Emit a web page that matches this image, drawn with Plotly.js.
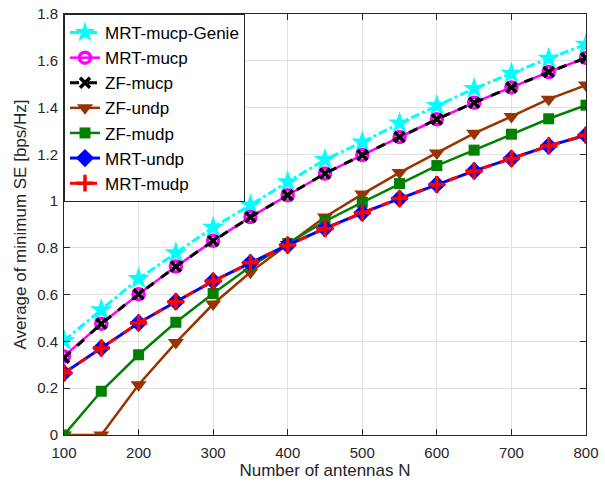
<!DOCTYPE html>
<html>
<head>
<meta charset="utf-8">
<script src="https://cdn.plot.ly/plotly-3.0.1.min.js"></script>
<style>html,body{margin:0;padding:0;background:#fff;}#chart{width:605px;height:487px;}</style>
</head>
<body>
<div id="chart"></div>
<script>
const antennas = [100,150,200,250,300,350,400,450,500,550,600,650,700,750,800];
const mrtMucpGenie = [0.403,0.535,0.668,0.778,0.888,0.983,1.082,1.177,1.252,1.333,1.408,1.481,1.546,1.610,1.670];
const mrtMucp      = [0.336,0.476,0.602,0.720,0.830,0.932,1.025,1.118,1.197,1.274,1.350,1.421,1.486,1.552,1.612];
const zfMucp       = [0.330,0.476,0.602,0.720,0.830,0.932,1.025,1.118,1.197,1.274,1.350,1.421,1.486,1.552,1.612];
const zfUndp       = [0.000,0.000,0.215,0.395,0.560,0.696,0.815,0.932,1.030,1.122,1.206,1.290,1.362,1.436,1.496];
const zfMudp       = [0.000,0.187,0.343,0.482,0.605,0.720,0.819,0.914,0.995,1.075,1.152,1.218,1.286,1.352,1.410];
const mrtUndp      = [0.265,0.372,0.479,0.570,0.658,0.736,0.812,0.883,0.950,1.011,1.071,1.129,1.182,1.236,1.282];
const mrtMudp      = [0.265,0.372,0.479,0.570,0.658,0.736,0.812,0.883,0.950,1.011,1.071,1.129,1.182,1.236,1.282];
const seriesNames = ['MRT-mucp-Genie','MRT-mucp','ZF-mucp','ZF-undp','ZF-mudp','MRT-undp','MRT-mudp'];
const xTicks = [100,200,300,400,500,600,700,800];
const yTicks = [0,0.2,0.4,0.6,0.8,1,1.2,1.4,1.6,1.8];
const yTickText = ['0','0.2','0.4','0.6','0.8','1','1.2','1.4','1.6','1.8'];

const traces = [
  {y: mrtMucpGenie, name: seriesNames[0], line:{color:'#00FFFF', width:3, dash:'dashdot'},
   marker:{symbol:'star', size:17, color:'#00FFFF'}},
  {y: mrtMucp, name: seriesNames[1], line:{color:'#FF00FF', width:2.5, dash:'solid'},
   marker:{symbol:'circle-open', size:11, color:'#FF00FF', line:{width:3.5, color:'#FF00FF'}}},
  {y: zfMucp, name: seriesNames[2], line:{color:'#000000', width:3, dash:'dash'},
   marker:{symbol:'x-thin-open', size:10, color:'#000000', line:{width:3.5, color:'#000000'}}},
  {y: zfUndp, name: seriesNames[3], line:{color:'#993300', width:2.5, dash:'solid'},
   marker:{symbol:'triangle-down', size:14, color:'#993300'}},
  {y: zfMudp, name: seriesNames[4], line:{color:'#008000', width:2.5, dash:'solid'},
   marker:{symbol:'square', size:11, color:'#008000'}},
  {y: mrtUndp, name: seriesNames[5], line:{color:'#0000FF', width:3, dash:'solid'},
   marker:{symbol:'diamond', size:14, color:'#0000FF'}},
  {y: mrtMudp, name: seriesNames[6], line:{color:'#FF0000', width:3, dash:'dash'},
   marker:{symbol:'cross-thin-open', size:12, color:'#FF0000', line:{width:3.5, color:'#FF0000'}}}
].map(t => Object.assign({x: antennas, type:'scatter', mode:'lines+markers'}, t));

const axisCommon = {
  showline:true, linecolor:'#262626', linewidth:1, mirror:'ticks',
  ticks:'inside', ticklen:6, tickcolor:'#262626',
  showgrid:true, gridcolor:'#e0e0e0', gridwidth:1, zeroline:false,
  tickfont:{family:'Liberation Sans, Arial, sans-serif', size:15, color:'#262626'}
};

const layout = {
  width:605, height:487,
  margin:{l:64, r:19, t:14, b:52},
  paper_bgcolor:'#ffffff', plot_bgcolor:'#ffffff',
  showlegend:true,
  font:{family:'Liberation Sans, Arial, sans-serif', color:'#262626'},
  xaxis: Object.assign({}, axisCommon, {
    range:[100,800], tickvals:xTicks, ticklabelstandoff:4,
    title:{text:'Number of antennas N', font:{size:17, color:'#262626'}, standoff:4}
  }),
  yaxis: Object.assign({}, axisCommon, {
    range:[0,1.8], tickvals:yTicks, ticktext:yTickText, ticklabelstandoff:2,
    title:{text:'Average of minimum SE [bps/Hz]', font:{size:17, color:'#262626'}, standoff:6}
  }),
  legend:{x:0, y:1, xanchor:'left', yanchor:'top', bgcolor:'#ffffff',
    bordercolor:'#262626', borderwidth:1,
    font:{family:'Liberation Sans, Arial, sans-serif', size:17, color:'#000000'},
    tracegroupgap:0, itemwidth:30}
};

Plotly.newPlot('chart', traces, layout, {displayModeBar:false, staticPlot:true});
</script>
</body>
</html>
